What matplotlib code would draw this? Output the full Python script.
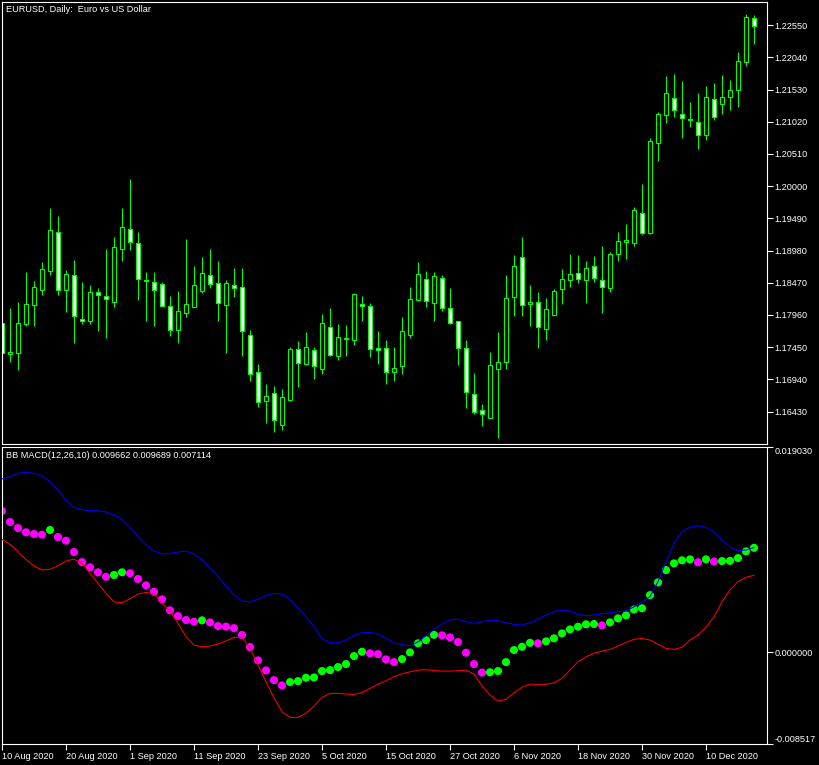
import numpy as np
import matplotlib.pyplot as plt
from matplotlib.patches import Rectangle

# EURUSD daily bars, 10 Aug 2020 .. 18 Dec 2020
opens = [1.1784, 1.1734, 1.1735, 1.1782, 1.1811, 1.1836, 1.1866, 1.1927, 1.1835, 1.1859,
         1.1790, 1.1787, 1.1832, 1.1826, 1.1816, 1.1900, 1.1932, 1.1910, 1.1851, 1.1848,
         1.1845, 1.1810, 1.1772, 1.1799, 1.1808, 1.1834, 1.1859, 1.1846, 1.1811, 1.1843,
         1.1841, 1.1764, 1.1705, 1.1659, 1.1672, 1.1621, 1.1661, 1.1742, 1.1718, 1.1740,
         1.1710, 1.1777, 1.1731, 1.1758, 1.1757, 1.1814, 1.1810, 1.1743, 1.1743, 1.1705,
         1.1715, 1.1764, 1.1819, 1.1853, 1.1815, 1.1854, 1.1807, 1.1786, 1.1743, 1.1670,
         1.1645, 1.1632, 1.1710, 1.1721, 1.1824, 1.1887, 1.1813, 1.1816, 1.1773, 1.1796,
         1.1837, 1.1851, 1.1862, 1.1851, 1.1873, 1.1851, 1.1838, 1.1892, 1.1911, 1.1910,
         1.1957, 1.1925, 1.2068, 1.2112, 1.2139, 1.2115, 1.2106, 1.2101, 1.2081, 1.2138,
         1.2130, 1.2141, 1.2152, 1.2196, 1.2266]
highs = [1.1791, 1.1807, 1.1817, 1.1864, 1.1850, 1.1880, 1.1966, 1.1953, 1.1867, 1.1883,
         1.1848, 1.1844, 1.1839, 1.1901, 1.1920, 1.1966, 1.2012, 1.1927, 1.1864, 1.1864,
         1.1848, 1.1826, 1.1834, 1.1916, 1.1874, 1.1888, 1.1901, 1.1882, 1.1851, 1.1871,
         1.1871, 1.1772, 1.1718, 1.1687, 1.1684, 1.1679, 1.1745, 1.1754, 1.1769, 1.1746,
         1.1797, 1.1807, 1.1781, 1.1780, 1.1830, 1.1826, 1.1815, 1.1770, 1.1756, 1.1745,
         1.1792, 1.1840, 1.1880, 1.1865, 1.1864, 1.1859, 1.1838, 1.1786, 1.1757, 1.1704,
         1.1655, 1.1738, 1.1769, 1.1859, 1.1891, 1.1919, 1.1843, 1.1832, 1.1823, 1.1837,
         1.1868, 1.1892, 1.1891, 1.1881, 1.1889, 1.1905, 1.1895, 1.1928, 1.1940, 1.1967,
         1.2003, 1.2076, 1.2117, 1.2174, 1.2177, 1.2166, 1.2133, 1.2147, 1.2158, 1.2163,
         1.2176, 1.2168, 1.2212, 1.2272, 1.2271]
lows = [1.1722, 1.1721, 1.1709, 1.1778, 1.1779, 1.1827, 1.1860, 1.1828, 1.1800, 1.1752,
        1.1782, 1.1782, 1.1771, 1.1760, 1.1809, 1.1882, 1.1899, 1.1820, 1.1787, 1.1779,
        1.1810, 1.1763, 1.1751, 1.1793, 1.1808, 1.1830, 1.1838, 1.1786, 1.1736, 1.1824,
        1.1731, 1.1691, 1.1650, 1.1625, 1.1610, 1.1613, 1.1659, 1.1682, 1.1716, 1.1694,
        1.1703, 1.1731, 1.1724, 1.1731, 1.1748, 1.1786, 1.1729, 1.1718, 1.1686, 1.1692,
        1.1702, 1.1759, 1.1818, 1.1809, 1.1786, 1.1802, 1.1781, 1.1716, 1.1648, 1.1639,
        1.1620, 1.1632, 1.1601, 1.1710, 1.1794, 1.1794, 1.1778, 1.1744, 1.1757, 1.1796,
        1.1813, 1.1840, 1.1846, 1.1815, 1.1848, 1.1799, 1.1832, 1.1881, 1.1884, 1.1905,
        1.1922, 1.1924, 1.2039, 1.2100, 1.2109, 1.2077, 1.2094, 1.2059, 1.2073, 1.2104,
        1.2115, 1.2120, 1.2125, 1.2190, 1.2225]
closes = [1.1736, 1.1738, 1.1783, 1.1813, 1.1840, 1.1868, 1.1930, 1.1836, 1.1861, 1.1794,
          1.1786, 1.1832, 1.1828, 1.1821, 1.1903, 1.1935, 1.1911, 1.1853, 1.1849, 1.1835,
          1.1810, 1.1772, 1.1802, 1.1813, 1.1843, 1.1862, 1.1845, 1.1815, 1.1846, 1.1838,
          1.1770, 1.1703, 1.1658, 1.1667, 1.1629, 1.1666, 1.1742, 1.1720, 1.1745, 1.1715,
          1.1783, 1.1732, 1.1761, 1.1760, 1.1829, 1.1810, 1.1742, 1.1741, 1.1705, 1.1712,
          1.1770, 1.1821, 1.1861, 1.1818, 1.1857, 1.1807, 1.1784, 1.1743, 1.1674, 1.1643,
          1.1639, 1.1716, 1.1721, 1.1823, 1.1873, 1.1811, 1.1816, 1.1777, 1.1805, 1.1834,
          1.1853, 1.1861, 1.1853, 1.1871, 1.1854, 1.1840, 1.1892, 1.1913, 1.1914, 1.1962,
          1.1925, 1.2071, 1.2114, 1.2147, 1.2120, 1.2108, 1.2104, 1.2081, 1.2141, 1.2109,
          1.2141, 1.2152, 1.2198, 1.2268, 1.2253]

# BB MACD(12,26,10): macd dots, upper band (blue), lower band (red)
macd = [0.01307, 0.01205, 0.01149, 0.01110, 0.01094, 0.01088, 0.01131, 0.01066, 0.01032, 0.00927,
        0.00834, 0.00785, 0.00739, 0.00698, 0.00714, 0.00739, 0.00730, 0.00677, 0.00618, 0.00559,
        0.00489, 0.00387, 0.00334, 0.00297, 0.00281, 0.00294, 0.00275, 0.00241, 0.00236, 0.00222,
        0.00158, 0.00046, -0.00077, -0.00170, -0.00260, -0.00309, -0.00278, -0.00269, -0.00238, -0.00235,
        -0.00176, -0.00167, -0.00139, -0.00111, -0.00037, 0.00003, -0.00012, -0.00019, -0.00068, -0.00093,
        -0.00065, -0.00003, 0.00081, 0.00111, 0.00160, 0.00155, 0.00136, 0.00093, -0.00006, -0.00111,
        -0.00190, -0.00187, -0.00176, -0.00093, 0.00019, 0.00049, 0.00086, 0.00081, 0.00099, 0.00127,
        0.00173, 0.00210, 0.00235, 0.00257, 0.00260, 0.00248, 0.00275, 0.00312, 0.00340, 0.00394,
        0.00406, 0.00528, 0.00646, 0.00760, 0.00822, 0.00850, 0.00859, 0.00832, 0.00859, 0.00839,
        0.00843, 0.00845, 0.00871, 0.00933, 0.009662]
upper = [0.01604, 0.01625, 0.01657, 0.01666, 0.01657, 0.01632, 0.01579, 0.01502, 0.01409, 0.01341,
         0.01319, 0.01310, 0.01310, 0.01298, 0.01270, 0.01230, 0.01156, 0.01069, 0.00992, 0.00936,
         0.00908, 0.00915, 0.00927, 0.00936, 0.00908, 0.00859, 0.00776, 0.00698, 0.00612, 0.00528,
         0.00476, 0.00464, 0.00489, 0.00526, 0.00544, 0.00538, 0.00489, 0.00405, 0.00327, 0.00235,
         0.00127, 0.00086, 0.00086, 0.00111, 0.00155, 0.00179, 0.00183, 0.00167, 0.00127, 0.00086,
         0.00071, 0.00057, 0.00095, 0.00151, 0.00210, 0.00260, 0.00297, 0.00306, 0.00281, 0.00266,
         0.00281, 0.00297, 0.00290, 0.00272, 0.00257, 0.00250, 0.00272, 0.00306, 0.00343, 0.00374,
         0.00389, 0.00380, 0.00349, 0.00337, 0.00343, 0.00355, 0.00364, 0.00374, 0.00383, 0.00420,
         0.00466, 0.00513, 0.00652, 0.00837, 0.01008, 0.01115, 0.01156, 0.01171, 0.01156, 0.01110,
         0.01038, 0.00976, 0.00939, 0.00946, 0.009689]
lower = [0.01045, 0.00998, 0.00930, 0.00859, 0.00797, 0.00760, 0.00767, 0.00800, 0.00844, 0.00862,
         0.00822, 0.00730, 0.00637, 0.00544, 0.00466, 0.00457, 0.00494, 0.00538, 0.00553, 0.00538,
         0.00451, 0.00380, 0.00266, 0.00142, 0.00065, 0.00049, 0.00056, 0.00074, 0.00102, 0.00136,
         0.00136, 0.00034, -0.00121, -0.00275, -0.00424, -0.00553, -0.00605, -0.00605, -0.00568, -0.00501,
         -0.00420, -0.00383, -0.00383, -0.00389, -0.00392, -0.00374, -0.00337, -0.00297, -0.00266, -0.00229,
         -0.00201, -0.00183, -0.00167, -0.00164, -0.00170, -0.00176, -0.00176, -0.00173, -0.00167, -0.00204,
         -0.00312, -0.00399, -0.00454, -0.00438, -0.00377, -0.00327, -0.00297, -0.00299, -0.00299, -0.00285,
         -0.00244, -0.00167, -0.00090, -0.00044, -0.00012, 0.00009, 0.00025, 0.00056, 0.00090, 0.00118,
         0.00127, 0.00111, 0.00074, 0.00034, 0.00025, 0.00044, 0.00111, 0.00158, 0.00229, 0.00327,
         0.00466, 0.00575, 0.00652, 0.00692, 0.007114]

date_labels = ["10 Aug 2020", "20 Aug 2020", "1 Sep 2020", "11 Sep 2020", "23 Sep 2020",
               "5 Oct 2020", "15 Oct 2020", "27 Oct 2020", "6 Nov 2020", "18 Nov 2020",
               "30 Nov 2020", "10 Dec 2020"]
price_ticks = [1.16430, 1.16940, 1.17450, 1.17960, 1.18470, 1.18980, 1.19490,
               1.20000, 1.20510, 1.21020, 1.21530, 1.22040, 1.22550]
macd_ticks = [-0.008517, 0.0, 0.019030]

LIME = '#00ff00'
FONT = 'Liberation Sans'
FS = 6.6

W, H = 820, 765
fig = plt.figure(figsize=(W / 100, H / 100), dpi=100, facecolor='black')
ax1 = fig.add_axes([2 / W, 1 - 444 / H, 765 / W, 442 / H], facecolor='black')
ax2 = fig.add_axes([2 / W, 1 - 744 / H, 765 / W, 297.3 / H], facecolor='black', sharex=ax1)

n = len(opens)
x = np.arange(n)

# candles
ax1.vlines(x, lows, highs, color=LIME, lw=0.8, zorder=1)
for i in range(n):
    o, c = opens[i], closes[i]
    face = 'black' if c >= o else 'white'
    ax1.add_patch(Rectangle((i - 0.25, min(o, c)), 0.5, abs(c - o),
                            facecolor=face, edgecolor=LIME, lw=0.8, zorder=2))

ax1.set_xlim(0, 95.625)
ax1.set_ylim(1.15916, 1.22916)

# BB MACD dots + bands
cols = ['#ff00ff'] + [LIME if macd[i] >= macd[i - 1] else '#ff00ff' for i in range(1, n)]
ax2.scatter(x, macd, s=34, c=cols, linewidths=0, zorder=2)
ax2.plot(x, upper, color='#0000ff', lw=0.75, zorder=3)
ax2.plot(x, lower, color='#ff0000', lw=0.75, zorder=3)
ax2.set_ylim(-0.008517, 0.019030)

for ax in (ax1, ax2):
    for sp in ax.spines.values():
        sp.set_color('white')
        sp.set_linewidth(0.8)
    ax.yaxis.tick_right()
    ax.tick_params(axis='y', colors='white', direction='out', length=4, width=0.8,
                   pad=1.5, labelsize=FS)
    for lab in ax.get_yticklabels():
        lab.set_family(FONT)

ax1.set_yticks(price_ticks)
ax1.set_yticklabels([f'{t:.5f}' for t in price_ticks], family=FONT, fontsize=FS, color='white')
ax1.tick_params(axis='x', bottom=False, labelbottom=False)

ax2.set_yticks(macd_ticks)
ax2.set_yticklabels([f'{t:.6f}' for t in macd_ticks], family=FONT, fontsize=FS, color='white')
ylabs = ax2.get_yticklabels()
ylabs[0].set_va('bottom')
ylabs[2].set_va('top')

ax2.set_xticks(np.arange(0, n, 8))
ax2.set_xticklabels(date_labels, family=FONT, fontsize=FS, color='white')
ax2.tick_params(axis='x', colors='white', direction='out', length=4, width=0.8, pad=2)
for lab in ax2.get_xticklabels():
    lab.set_ha('left')

fig.text(6 / W, 1 - 10 / H, 'EURUSD, Daily:  Euro vs US Dollar', color='white',
         family=FONT, fontsize=FS, ha='left', va='center')
fig.text(6 / W, 1 - 455.5 / H, 'BB MACD(12,26,10) 0.009662 0.009689 0.007114', color='white',
         family=FONT, fontsize=FS, ha='left', va='center')

fig.savefig('out.png', dpi=100, facecolor='black')
